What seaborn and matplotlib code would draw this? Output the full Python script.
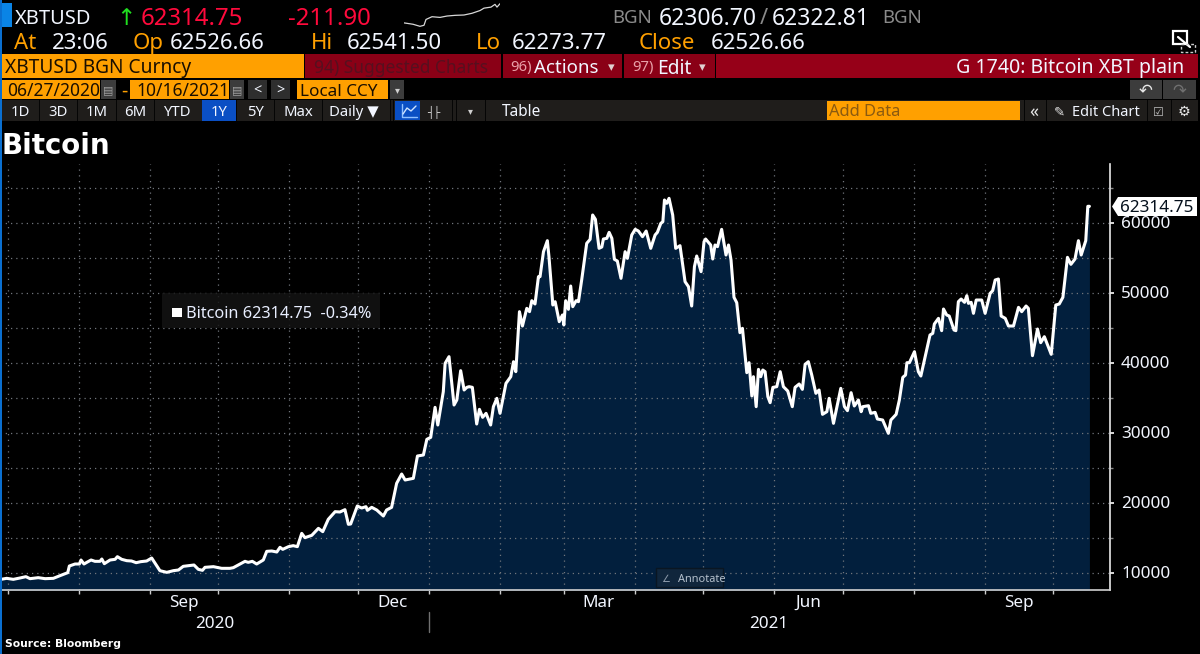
import pandas as pd
import numpy as np
import matplotlib
matplotlib.use("Agg")
import matplotlib.pyplot as plt
import seaborn as sns
from matplotlib.patches import Rectangle, Polygon

# ---------- data ----------
START_DATE = "2020-06-27"
day_offsets = [
 0,0.9,3.4,6.3,9.2,11.8,13.6,17.2,20.2,23.8,26.7,30.1,30.8,33.3,35.2,35.9,37.2,38.7,40.3,42,44.2,45,46.1,48.6,50.8,51.8,
 53.7,55.9,58,60,62,64.6,66.8,68.3,70.4,73.4,76.3,78.5,80.6,84.3,85.3,87.2,89,90.1,93.8,97.4,101,102.5,105.4,107.6,109,
 110.8,112.7,115.6,117.1,119.3,121.5,122.9,124.1,126.6,128.7,130.5,132.4,133.8,136.8,139.7,141.6,144,147,149.1,151.3,
 152.8,153.8,156.7,158.6,160.5,161.1,163,165.2,168.1,169.5,171.7,173.9,176.1,177.6,181.2,183,185.6,
 187.1,188.8,190.7,191.9,194.3,195.1,196.8,199,200.2,201.9,203.4,204.6,205.6,207,208.9,210.1,211.5,213,215,216.2,217.7,
 219.1,221.7,223.8,225,226,227.6,228.9,230.8,232,233,234.4,235.9,236.6,238.1,239.8,240.5,242.2,243.2,245,246.4,247,
 247.8,249,250,250.9,252.4,253.4,254.8,257,258.5,259.6,260.8,262.4,263.6,264.3,265.8,266.8,268,269.1,270.4,272,273.8,
 274.8,276.7,278.2,279.6,281.4,283,285,286.9,287.9,289.4,290.3,291,292,293,294.6,295.9,297.8,300,301.5,302.9,304.1,
 305.1,307,308.3,309,311.2,312.1,313.1,314.2,316,317.9,319,320.1,321.4,322.6,324,325.1,327,328,329.2,329.9,331.1,332.1,
 333.1,334,335,336.2,337.2,338.4,340.1,341.6,343,344.9,346.9,348.1,349.9,
 351.3,352.5,353.9,355.4,357.2,358.6,360.1,362,363,364.9,368.1,369.7,371,372.6,374,375.8,377,377.7,380.2,381.2,383.1,
 384.1,386.4,388.9,390,392.3,393.7,395.2,396.4,397,398.1,400.3,402,403.1,405,407.1,408.3,409,410.8,412.2,413,414.4,
 415.5,417.6,418.4,419.5,420.7,422.2,423.2,423.9,425.1,426.1,427.3,429.7,431.2,433.4,434.5,435.6,437,438.2,440,441.4,
 443.6,445.8,447.2,449.1,450.1,451.9,454.1,455.5,457.1,460.1,462.1,463.6,465.2,467.2,468.7,470.5,472,473.2,475.2,476.1,476.8]
prices = [
 9050,9023,9166,9023,9214,9404,9119,9261,9119,9166,9547,9976,10928,11214,11214,11785,11214,11500,11785,11595,11595,11928,
 11261,11785,11881,12261,11881,11690,11642,11404,11547,11642,12071,11309,10261,10023,10261,10357,10881,11023,11071,10452,
 10309,10738,10833,10595,10595,10690,11214,11595,11452,11595,11214,11785,13023,13071,12928,13595,13309,13690,13833,13690,
 15595,14976,15309,16309,15833,17595,18690,18643,18976,16881,16928,19500,19214,19404,18881,19309,18928,18071,18928,19309,
 22738,24071,23214,23452,26643,26786,
 29023,29308,33594,31071,35831,39880,40833,33928,34642,38833,36071,36452,36547,36452,31214,33309,32166,32738,31071,33690,
 34880,32738,37023,37976,40118,38690,47261,45214,47738,47261,48832,48356,52261,52261,55832,57404,55118,48214,48689,45832,
 46785,45356,48832,47595,50927,47975,48832,48689,51785,57023,57594,61071,60452,56309,56500,57642,57738,58594,57738,54738,
 54499,52023,55832,54880,58214,59023,58785,57975,58785,56309,58214,58594,59880,60118,63214,62737,63452,61071,56309,56690,
 51547,50832,48071,53690,55214,52976,57261,57642,56785,54785,56785,56550,59023,55356,56785,54642,49309,48546,44261,44880,
 38546,39975,35213,37975,33689,39023,37975,38928,38690,35118,34261,36452,36547,38690,36547,35927,33689,36452,36928,
 36166,39737,40118,38213,35594,36071,32594,32975,34880,31309,36308,33689,33118,35689,33785,34642,32975,33689,33832,32737,
 32880,31928,31785,29880,31785,32594,34642,37880,38213,39975,39975,41546,38690,38071,40832,43928,44166,45499,46309,44547,
 47642,46785,46642,44642,44547,48689,49071,48594,49547,48451,48594,47023,48928,48928,47023,49880,50261,51785,51927,46642,
 46309,45214,45214,47880,47261,48071,47738,40975,44785,42832,43689,41166,48214,48356,49309,55023,54023,54785,57404,55356,
 57404,62314.75,62314.75]
y_major = [10000,20000,30000,40000,50000,60000]
y_grid = [10000,15000,20000,25000,30000,35000,40000,45000,50000,55000,60000,65000]
month_starts = ["2020-07-01","2020-08-01","2020-09-01","2020-10-01","2020-11-01","2020-12-01","2021-01-01","2021-02-01",
                "2021-03-01","2021-04-01","2021-05-01","2021-06-01","2021-07-01","2021-08-01","2021-09-01","2021-10-01"]
label_dates = ["2020-09-16","2020-12-16","2021-03-16","2021-06-16","2021-09-16"]
label_names = ["Sep","Dec","Mar","Jun","Sep"]
spark_idx = [0,9,16,20,22,28,36,43,51,60,68,76,80,87,91,93,96]
spark_lvl = [32,28,22,25,42,50,48,52,54,55,60,68,75,78,86,78,88]

W, H = 1200, 654
ORANGE = "#ffa000"
RED = "#960018"
DRED = "#8a0016"
NAVY = "#021f3d"
WHITE = "#f2f6ff"

sns.set_theme(style="dark", rc={"axes.facecolor": "black", "figure.facecolor": "black"})
plt.rcParams["font.family"] = ["Noto Sans", "DejaVu Sans"]

fig = plt.figure(figsize=(W/100, H/100), dpi=100, facecolor="black")

def px_axes(x0, y0, x1, y1, **kw):
    return fig.add_axes([x0/W, 1-y1/H, (x1-x0)/W, (y1-y0)/H], **kw)

# ---------- main chart ----------
ax = px_axes(0, 164, 1110, 590)
df = pd.DataFrame({"date": pd.Timestamp(START_DATE) + pd.to_timedelta(day_offsets, unit="D"), "price": prices})
ax.fill_between(df["date"], df["price"], 0, color=NAVY, lw=0, zorder=1)
sns.lineplot(data=df, x="date", y="price", ax=ax, color="white", lw=2.2, zorder=3, estimator=None, sort=False)
ax.set_xlabel(""); ax.set_ylabel("")
ax.set_ylim(10000-17.5/7*1000, 10000+(572.5-164)/7*1000)
ax.set_xlim(pd.Timestamp(START_DATE)+pd.Timedelta(days=0.48), pd.Timestamp(START_DATE)+pd.Timedelta(days=485.8))
ax.set_facecolor("black")
ax.grid(False)
for g in y_grid:
    ax.axhline(g, color="#70757c", lw=0.9, ls=(0, (1, 3.2)), zorder=2)
for m in month_starts:
    ax.axvline(pd.Timestamp(m), color="#70757c", lw=0.9, ls=(0, (1, 3.6)), zorder=2)
for s in ["top", "left"]:
    ax.spines[s].set_visible(False)
ax.spines["right"].set_color("#e8e8e8"); ax.spines["right"].set_linewidth(1.2)
ax.spines["bottom"].set_color("#d0d0d0"); ax.spines["bottom"].set_linewidth(1.2)
ax.yaxis.tick_right()
ax.set_yticks(y_major)
ax.set_yticklabels([str(v) for v in y_major], color=WHITE, fontsize=12.3)
ax.tick_params(axis="y", which="major", length=3, width=1.2, color="white", pad=5, right=True, left=False)
ax.set_yticks([v for v in y_grid if v not in y_major], minor=True)
ax.tick_params(axis="y", which="minor", length=2, width=1, color="#888", right=True, left=False)
ax.set_xticks(pd.to_datetime(month_starts))
ax.set_xticklabels([""]*len(month_starts))
ax.tick_params(axis="x", which="major", length=3, width=1, color="#ccc", bottom=True)
ax.set_xticks(pd.to_datetime(label_dates), minor=True)
ax.set_xticklabels(label_names, minor=True, color=WHITE, fontsize=12.3)
ax.tick_params(axis="x", which="minor", length=0, pad=3.5, bottom=True)

# ---------- sparkline ----------
sp = px_axes(404, 3, 500, 27)
sns.lineplot(x=spark_idx, y=spark_lvl, ax=sp, color="#d8d8d8", lw=0.9)
sp.set_xlim(0, 96); sp.set_ylim(20, 90); sp.axis("off"); sp.patch.set_alpha(0)

# ---------- terminal chrome overlay in pixel coordinates ----------
ov = px_axes(0, 0, W, H)
ov.set_xlim(0, W); ov.set_ylim(H, 0); ov.axis("off"); ov.patch.set_alpha(0)
ov.set_zorder(5)

def rect(x0, y0, x1, y1, c, ec="none", z=1, lw=0.8):
    ov.add_patch(Rectangle((x0, y0), x1-x0, y1-y0, fc=c, ec=ec, lw=lw, zorder=z))

def t(x, y, s, px=18, c=WHITE, ha="left", w="normal", fam=None, z=3):
    scale = 1.0 if fam else 1.1
    ov.text(x, y, s, fontsize=px*0.72*scale, color=c, ha=ha, va="center_baseline", fontweight=w, zorder=z,
            **({"family": fam} if fam else {}))

rect(0, 0, 1.5, H, "#0a6fd0", z=4)
rect(1, 3, 12, 27, "#0a84e6")
t(15, 16, "XBTUSD", 18.2)
t(126, 16, "↑", 21, "#20e020", ha="center")
t(141, 16, "62314.75", 21.8, "#ff0a3c")
t(288, 16, "-211.90", 21.8, "#ff0a3c")
t(612, 16, "BGN", 17, "#8a8a8a")
t(659, 16, "62306.70", 20.8)
t(764, 16, "/", 20, "#8a8a8a", ha="center")
t(772, 16, "62322.81", 20.8)
t(882, 16, "BGN", 17, "#8a8a8a")

for x, s, c in [(14.5, "At", ORANGE), (52, "23:06", WHITE), (133, "Op", ORANGE), (169.5, "62526.66", WHITE),
                (311, "Hi", ORANGE), (347, "62541.50", WHITE), (476, "Lo", ORANGE), (512, "62273.77", WHITE),
                (639, "Close", ORANGE), (711, "62526.66", WHITE)]:
    t(x, 41, s, 20.2, c)

# expand icon
rect(1173, 31, 1187, 44, "none", ec="white", z=3, lw=1.6)
ov.plot([1178, 1190], [37, 47], color="white", lw=1.6, zorder=3)
rect(1181, 44, 1195, 52, "none", ec="#cccccc", z=3, lw=1.0)
ov.patches[-1].set_linestyle((0, (2, 1.5)))

# row 3
rect(2, 54, 304, 78, ORANGE)
t(5, 66, "XBTUSD BGN Curncy", 17.4, "#1a0f00")
rect(305, 54, 501, 78, DRED)
t(314, 66, "94) Suggested Charts", 15.8, "#56101f")
rect(503, 54, 622, 78, DRED)
t(510, 66, "96)", 13.5, "#e8a0a8")
t(534, 66, "Actions", 17)
t(611, 66, "▾", 12, "#e0d0d0", ha="center")
rect(624, 54, 715, 78, DRED)
t(632, 66, "97)", 13.5, "#e8a0a8")
t(657, 66, "Edit", 17.5)
t(702, 66, "▾", 12, "#e0d0d0", ha="center")
rect(716, 54, 1198, 78, RED)
t(1184, 66, "G 1740: Bitcoin XBT plain", 17.8, ha="right")

# row 4
rect(2, 80, 100, 99, ORANGE)
t(7, 89.5, "06/27/2020", 15.8, "#1a0f00")
rect(101, 80, 116, 99, "#3c3c3c")
t(108.5, 89.5, "▤", 10, "#a0a0a0", ha="center")
t(124, 89, "-", 18, ORANGE, ha="center")
rect(130, 80, 229, 99, ORANGE)
t(136, 89.5, "10/16/2021", 15.8, "#1a0f00")
rect(230, 80, 244, 99, "#3c3c3c")
t(237, 89.5, "▤", 10, "#a0a0a0", ha="center")
rect(248, 80, 267, 99, "#2e2e2e")
t(257.5, 89.5, "<", 13, ha="center")
rect(271, 80, 290, 99, "#2e2e2e")
t(280.5, 89.5, ">", 13, ha="center")
rect(297, 80, 388, 99, ORANGE)
t(300, 89.5, "Local CCY", 15.6, "#1a0f00")
rect(390, 80, 404, 99, "#3c3c3c")
t(397, 89.5, "▾", 9, "#d0d0d0", ha="center")
rect(1130, 80, 1162, 99, "#3c3c3c")
t(1146, 89.5, "↶", 15, "#e8e8e8", ha="center")
rect(1163, 80, 1196, 99, "#3c3c3c")
t(1179, 89.5, "↷", 15, "#707070", ha="center")

# row 5
rect(2, 100, 1198, 121, "#1f1d1b")
for x, s in [(20.6, "1D"), (58, "3D"), (97, "1M"), (135, "6M"), (177, "YTD"), (255.6, "5Y"), (298, "Max")]:
    t(x, 110.5, s, 13.5, ha="center")
for xs in [39, 77, 116, 154, 202, 236, 274, 322, 390, 393, 452, 456, 485, 1024, 1046, 1147, 1171]:
    rect(xs, 100, xs+1.2, 121, "#050505")
rect(202, 100, 236, 121, "#0a4fc4")
t(219, 110.5, "1Y", 13.5, ha="center")
t(329, 110.5, "Daily ▼", 13.5)
rect(395, 101, 420, 120, "#0a4fc4")
ov.plot([402, 402, 417], [104, 117, 117], color="#8fc0ff", lw=1)
ov.plot([403, 407, 411, 416], [114, 108, 111, 106], color="#cfe4ff", lw=1)
t(434, 110.5, "┤├", 10, "#d0d0d0", ha="center")
t(470, 110.5, "▾", 9, "#d0d0d0", ha="center")
t(521.6, 110.5, "Table", 14, ha="center")
rect(826.5, 101, 1020, 120, ORANGE)
t(829, 110.5, "Add Data", 15, "#8a5a10")
t(1034, 110, "«", 16, "#e8e8e8", ha="center", w="bold")
t(1059, 110.5, "✎", 12, "#e8e8e8", ha="center")
t(1072, 110.5, "Edit Chart", 13.3)
t(1158, 110.5, "☑", 11, "#c0c0c0", ha="center")
t(1184, 110.5, "⚙", 13, "#e8e8e8", ha="center")

# title & footers
t(2, 143, "Bitcoin", 27.6, "white", w="bold", fam="DejaVu Sans")
rect(162, 293, 380, 328, "#141414", z=1)
ov.patches[-1].set_alpha(0.85)
rect(172, 308, 182, 317, "white")
t(186, 312, "Bitcoin 62314.75  -0.34%", 14.8, "#e8eeff")

# price tag
ov.add_patch(Polygon([[1112, 206.5], [1118, 197], [1197, 197], [1197, 216], [1118, 216]], fc="white", ec="none", zorder=2))
t(1120, 206.5, "62314.75", 15.6, "#05101c")

# annotate button
rect(655.5, 568, 723, 587, "#10263c", ec="#0a1622", lw=1)
t(666, 577.5, "∠", 9, "#8a98a8", ha="center")
t(678, 577.5, "Annotate", 10, "#b4c0cc")

t(215, 622.5, "2020", 15.5, ha="center")
t(769, 622.5, "2021", 15.5, ha="center")
ov.plot([429, 429], [612, 632], color="#707070", lw=1)
t(5, 643, "Source: Bloomberg", 10.8, "white", w="bold", fam="DejaVu Sans")

fig.savefig("out.png", dpi=100, facecolor="black")
